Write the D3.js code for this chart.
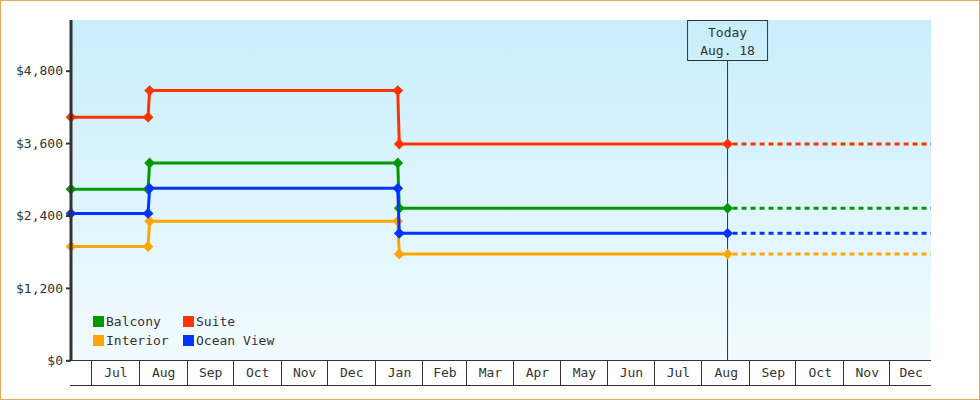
<!DOCTYPE html>
<html>
<head>
<meta charset="utf-8">
<script src="https://cdn.jsdelivr.net/npm/d3@7"></script>
<style>
  body { margin: 0; background: #fff; }
  text { font-family: "DejaVu Sans Mono", monospace; font-size: 13px; fill: #333; }
</style>
</head>
<body>
<div id="chart"></div>
<script>
// price change dates (old price on the first day, new price the day after)
const dates = ["2014-06-18", "2014-08-07", "2014-08-08", "2015-01-16", "2015-01-17", "2015-08-18"]
const balcony = [2835, 2835, 3270, 3270, 2520, 2520]
const suite = [4030, 4030, 4470, 4470, 3585, 3585]
const interior = [1885, 1885, 2305, 2305, 1760, 1760]
const oceanView = [2435, 2435, 2850, 2850, 2105, 2105]
const seriesNames = ["Balcony", "Suite", "Interior", "Ocean View"]
const seriesColors = ["#009900", "#ff3300", "#ffa500", "#0033ff"]
const yTicks = [0, 1200, 2400, 3600, 4800]
const domainStart = "2014-06-18"
const domainEnd = "2015-12-28"
const todayDate = "2015-08-18"
const todayLabel = ["Today", "Aug. 18"]

const parse = d3.timeParse("%Y-%m-%d")
const width = 980
const height = 400
const margin = { left: 71, right: 49, top: 20, bottom: 40 }
const plotW = width - margin.left - margin.right

const svg = d3.select("#chart").append("svg")
  .attr("width", width)
  .attr("height", height)

const x = d3.scaleTime()
  .domain([parse(domainStart), parse(domainEnd)])
  .range([margin.left, margin.left + plotW])
const y = d3.scaleLinear().domain([0, 5640]).range([360.3, margin.top])

// background gradient
const grad = svg.append("defs").append("linearGradient")
  .attr("id", "bg").attr("x1", 0).attr("y1", 0).attr("x2", 0).attr("y2", 1)
grad.append("stop").attr("offset", "0%").attr("stop-color", "#c8eefc")
grad.append("stop").attr("offset", "100%").attr("stop-color", "#f2fbff")

svg.append("rect")
  .attr("x", margin.left).attr("y", margin.top)
  .attr("width", plotW).attr("height", 360 - margin.top)
  .attr("fill", "url(#bg)")

// outer border
svg.append("rect")
  .attr("x", 0.5).attr("y", 0.5)
  .attr("width", width - 1).attr("height", height - 1)
  .attr("fill", "none").attr("stroke", "#e8a862")

// today marker
const tx = x(parse(todayDate))
svg.append("line")
  .attr("x1", tx).attr("x2", tx).attr("y1", 60).attr("y2", 360)
  .attr("stroke", "#333").attr("stroke-width", 1)
svg.append("rect")
  .attr("x", tx - 40).attr("y", 20.5).attr("width", 80).attr("height", 40)
  .attr("fill", "none").attr("stroke", "#333")
svg.append("text").attr("x", tx).attr("y", 37).attr("text-anchor", "middle").text(todayLabel[0])
svg.append("text").attr("x", tx).attr("y", 55).attr("text-anchor", "middle").text(todayLabel[1])

// series
const allSeries = [balcony, suite, interior, oceanView]
const line = d3.line().x(d => x(d.date)).y(d => y(d.value))

allSeries.forEach((values, s) => {
  const pts = dates.map((d, i) => ({ date: parse(d), value: values[i] }))
  const color = seriesColors[s]
  const last = pts[pts.length - 1]

  // future (dotted) part up to the end of the range
  svg.append("path")
    .attr("d", line([last, { date: parse(domainEnd), value: last.value }]))
    .attr("fill", "none").attr("stroke", color).attr("stroke-width", 3)
    .attr("stroke-dasharray", "5,4").attr("stroke-dashoffset", -5)

  svg.append("path")
    .attr("d", line(pts))
    .attr("fill", "none").attr("stroke", color).attr("stroke-width", 3)

  svg.selectAll(null).data(pts).enter().append("path")
    .attr("d", d3.symbol(d3.symbolSquare, 58))
    .attr("transform", d => `translate(${x(d.date)},${y(d.value)}) rotate(45)`)
    .attr("fill", color)
})

// y axis
const yAxis = d3.axisLeft(y)
  .tickValues(yTicks)
  .tickSize(5)
  .tickSizeOuter(0)
  .tickPadding(3)
  .tickFormat(d => "$" + d3.format(",")(d))
const yg = svg.append("g").attr("transform", `translate(${margin.left},0)`).call(yAxis)
yg.select(".domain").remove()
yg.selectAll(".tick line").attr("stroke", "#333").attr("stroke-width", 2)
yg.selectAll(".tick text").style("font-family", "DejaVu Sans Mono, monospace").style("font-size", "13px").attr("fill", "#333")
svg.append("line")
  .attr("x1", margin.left).attr("x2", margin.left)
  .attr("y1", margin.top).attr("y2", 361)
  .attr("stroke", "#333").attr("stroke-width", 3)

// month axis band
const x0 = margin.left
const x1 = margin.left + plotW
svg.append("line").attr("x1", x0).attr("x2", x1).attr("y1", 360.5).attr("y2", 360.5).attr("stroke", "#333")
svg.append("line").attr("x1", x0 - 1).attr("x2", x1).attr("y1", 385.5).attr("y2", 385.5).attr("stroke", "#333")

const bounds = d3.timeMonth.range(parse(domainStart), parse(domainEnd))
svg.selectAll(".sep").data(bounds).enter().append("line")
  .attr("x1", d => Math.round(x(d)) + 0.5).attr("x2", d => Math.round(x(d)) + 0.5)
  .attr("y1", 360).attr("y2", 385)
  .attr("stroke", "#333")

// label a month cell only when it is wide enough
const edges = [parse(domainStart), ...bounds, parse(domainEnd)]
const cells = d3.pairs(edges).filter(([a, b]) => x(b) - x(a) > 30)
svg.selectAll(".mlabel").data(cells).enter().append("text")
  .attr("x", d => (x(d[0]) + x(d[1])) / 2 + 1)
  .attr("y", 377)
  .attr("text-anchor", "middle")
  .text(d => d3.timeFormat("%b")(d[0]))

// legend
const legendPos = [[93, 316], [183, 316], [93, 335], [183, 335]]
seriesNames.forEach((name, i) => {
  const [lx, ly] = legendPos[i]
  svg.append("rect").attr("x", lx).attr("y", ly).attr("width", 11).attr("height", 11).attr("fill", seriesColors[i])
  svg.append("text").attr("x", lx + 13).attr("y", ly + 9.5).text(name)
})
</script>
</body>
</html>
